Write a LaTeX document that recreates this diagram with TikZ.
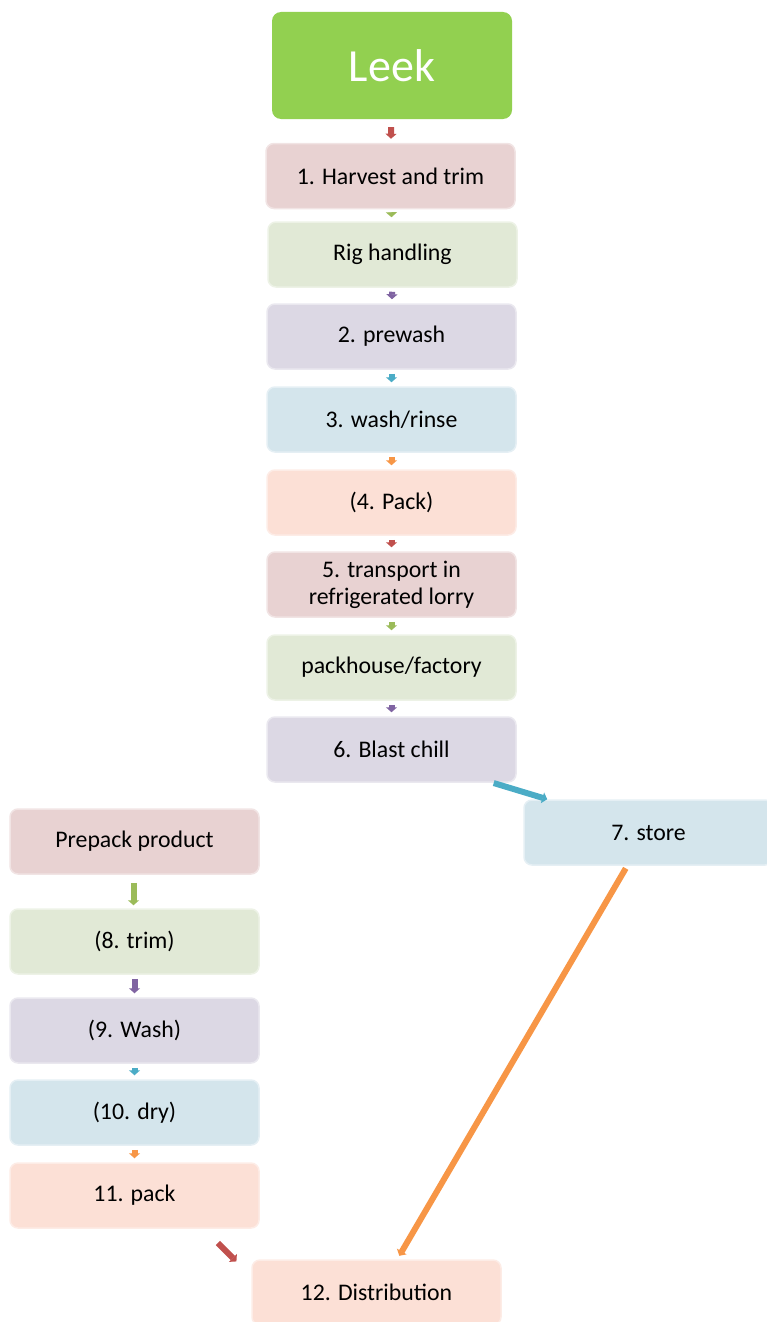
\documentclass[tikz,border=0pt]{standalone}
\usepackage{fontspec}
\setmainfont{Carlito}
\usetikzlibrary{arrows.meta}

\definecolor{leekgreen}{HTML}{92D050}
\definecolor{redacc}{HTML}{C0504D}
\definecolor{greenacc}{HTML}{9BBB59}
\definecolor{purpleacc}{HTML}{8064A2}
\definecolor{blueacc}{HTML}{4BACC6}
\definecolor{orangeacc}{HTML}{F79646}
\definecolor{pinkfill}{HTML}{E8D2D2}
\definecolor{greenfill}{HTML}{E1E9D6}
\definecolor{purplefill}{HTML}{DCD8E4}
\definecolor{bluefill}{HTML}{D4E5EC}
\definecolor{orangefill}{HTML}{FCE0D6}

\tikzset{
    stepbox/.style={rectangle, rounded corners=8pt, minimum width=249pt, minimum height=65pt,
        line width=1.5pt, align=center, inner sep=2pt,
        font=\fontsize{23.8}{27}\selectfont},
    pinkbox/.style={stepbox, fill=pinkfill, draw=pinkfill!60!white},
    greenbox/.style={stepbox, fill=greenfill, draw=greenfill!60!white},
    purplebox/.style={stepbox, fill=purplefill, draw=purplefill!60!white},
    bluebox/.style={stepbox, fill=bluefill, draw=bluefill!60!white},
    orangebox/.style={stepbox, fill=orangefill, draw=orangefill!60!white},
    flow/.style={line width=6pt, -{Triangle[length=5pt,width=11pt]}, shorten <=4pt, shorten >=4pt}
}

\begin{document}
\begin{tikzpicture}[x=1pt, y=-1pt]
    \useasboundingbox (0,0) rectangle (767,1322);

    % --- Main chain ---
    \node[rectangle, rounded corners=9pt, fill=leekgreen, minimum width=240pt, minimum height=107pt,
          text=white, font=\fontsize{46}{50}\selectfont] (leek) at (392,65.5) {Leek};
    \node[pinkbox] (harvest) at (390.5,176) {1. Harvest and trim};
    \node[greenbox] (rig) at (392.5,254.5) {Rig handling};
    \node[purplebox] (prewash) at (391.5,336.5) {2. prewash};
    \node[bluebox] (washrinse) at (391.5,419.5) {3. wash/rinse};
    \node[orangebox] (packfour) at (391.5,502.5) {(4. Pack)};
    \node[pinkbox] (transport) at (391.5,584.5) {5. transport in\\refrigerated lorry};
    \node[greenbox] (packhouse) at (391.5,667.5) {packhouse/factory};
    \node[purplebox] (blast) at (391.5,749.5) {6. Blast chill};
    \node[bluebox] (store) at (648.5,832.5) {7. store};

    % --- Prepack chain ---
    \node[pinkbox] (prepack) at (134.5,841.5) {Prepack product};
    \node[greenbox] (trim) at (134.5,941.5) {(8. trim)};
    \node[purplebox] (washnine) at (134.5,1030.5) {(9. Wash)};
    \node[bluebox] (dry) at (134.5,1112.5) {(10. dry)};
    \node[orangebox] (packeleven) at (134.5,1195.5) {11. pack};
    \node[orangebox] (dist) at (376.5,1292.5) {12. Distribution};

    % --- Arrows ---
    \draw[flow, redacc, shorten <=8pt] (leek) -- (harvest);
    \draw[flow, greenacc] (harvest) -- (rig);
    \draw[flow, purpleacc] (rig) -- (prewash);
    \draw[flow, blueacc] (prewash) -- (washrinse);
    \draw[flow, orangeacc] (washrinse) -- (packfour);
    \draw[flow, redacc] (packfour) -- (transport);
    \draw[flow, greenacc] (transport) -- (packhouse);
    \draw[flow, purpleacc] (packhouse) -- (blast);
    \draw[flow, blueacc, shorten <=1pt, shorten >=0pt] ([xshift=-24pt]blast.south east) -- ([xshift=24pt]store.north west);

    \draw[flow, greenacc, shorten <=8pt, shorten >=3pt] ([xshift=-1pt]prepack.south) -- ([xshift=-1pt]trim.north);
    \draw[flow, purpleacc] (trim) -- (washnine);
    \draw[flow, blueacc] (washnine) -- (dry);
    \draw[flow, orangeacc] (dry) -- (packeleven);
    \draw[flow, redacc, shorten <=20pt, shorten >=4pt] ([xshift=-56pt]packeleven.south east) -- ([xshift=-12pt,yshift=-5pt]dist.north west);
    \draw[flow, orangeacc, shorten <=3pt, shorten >=4pt] ([xshift=104pt]store.south west) -- ([xshift=146pt]dist.north west);
\end{tikzpicture}
\end{document}
